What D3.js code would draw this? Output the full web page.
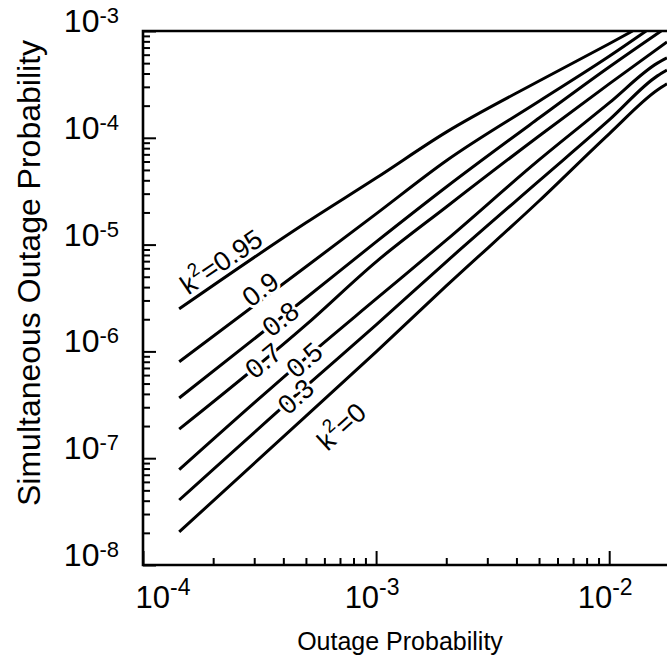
<!DOCTYPE html>
<html>
<head>
<meta charset="utf-8">
<script src="https://cdn.jsdelivr.net/npm/d3@7"></script>
<style>
  body { margin: 0; background: #fff; }
  svg { display: block; font-family: 'Liberation Sans', Arial, Helvetica, sans-serif; }
</style>
</head>
<body>
<svg id="chart" width="667" height="666"></svg>
<script>
// values: [outage probability, simultaneous outage probability]
const curve095 = [[1.43e-4, 2.5e-6], [5e-4, 1.6e-5], [1e-3, 4.2e-5], [2e-3, 1.13e-4], [5e-3, 3.4e-4], [1e-2, 7.6e-4], [1.26e-2, 1e-3]];
const curve09 = [[1.43e-4, 8.0e-7], [5e-4, 6.2e-6], [1e-3, 1.94e-5], [2e-3, 6.1e-5], [5e-3, 2.2e-4], [1e-2, 5.8e-4], [1.44e-2, 1e-3]];
const curve08 = [[1.43e-4, 3.66e-7], [5e-4, 3.16e-6], [1e-3, 1.06e-5], [2e-3, 3.46e-5], [5e-3, 1.53e-4], [1e-2, 4.6e-4], [1.67e-2, 1e-3]];
const curve07 = [[1.43e-4, 1.87e-7], [5e-4, 1.77e-6], [1e-3, 6.9e-6], [2e-3, 2.25e-5], [5e-3, 1.04e-4], [1e-2, 3.2e-4], [1.77e-2, 7.9e-4]];
const curve05 = [[1.43e-4, 7.8e-8], [5e-4, 8.7e-7], [1e-3, 3.1e-6], [2e-3, 1.1e-5], [5e-3, 6.2e-5], [1e-2, 2.12e-4], [1.61e-2, 5.0e-4], [1.77e-2, 5.6e-4]];
const curve03 = [[1.43e-4, 4.06e-8], [5e-4, 4.7e-7], [1e-3, 1.77e-6], [2e-3, 6.9e-6], [5e-3, 3.95e-5], [1e-2, 1.47e-4], [1.61e-2, 3.8e-4], [1.77e-2, 4.3e-4]];
const curve0 = [[1.43e-4, 2.04e-8], [5e-4, 2.48e-7], [1e-3, 9.9e-7], [2e-3, 4.1e-6], [5e-3, 2.56e-5], [1e-2, 1.09e-4], [1.61e-2, 2.8e-4], [1.77e-2, 3.2e-4]];

const curves = [curve095, curve09, curve08, curve07, curve05, curve03, curve0];
const kSquared = ['0.95', '0.9', '0.8', '0.7', '0.5', '0.3', '0'];
// outage probability where each curve label sits
const labelAt = [2.36e-4, 3.37e-4, 3.87e-4, 3.27e-4, 4.9e-4, 4.5e-4, 5.75e-4];
const xTickLabels = ['-4', '-3', '-2'];
const yTickLabels = ['-8', '-7', '-6', '-5', '-4', '-3'];

const svg = d3.select('#chart');
const x = d3.scaleLog().domain([1e-4, 1.77e-2]).range([143, 667]);
const y = d3.scaleLog().domain([1e-8, 1e-3]).range([565, 31]);

const isMajor = (v) => Math.abs(Math.log10(v) - Math.round(Math.log10(v))) < 1e-6;

// ticks (pointing inward)
function ticks(axis, scale, size, vals, transform) {
  svg.append('g')
    .attr('transform', transform)
    .call(axis(scale).tickValues(vals).tickSize(size).tickFormat(''))
    .call((g) => g.select('.domain').remove())
    .selectAll('line')
    .attr('stroke', '#000')
    .attr('stroke-width', 2);
}
const xt = x.ticks();
const yt = y.ticks();
ticks(d3.axisTop, x, 7, xt.filter((v) => !isMajor(v)), 'translate(0,565)');
ticks(d3.axisTop, x, 14, xt.filter(isMajor), 'translate(0,565)');
ticks(d3.axisRight, y, 7, yt.filter((v) => !isMajor(v)), 'translate(143,0)');
ticks(d3.axisRight, y, 13, yt.filter(isMajor), 'translate(143,0)');

// frame
const frame = svg.append('g').attr('stroke', '#000').attr('stroke-width', 2.6).attr('fill', 'none');
frame.append('path').attr('d', `M${x(1.77e-2)},${y(1e-3)}H${x(1e-4)}V${y(1e-8)}H${x(1.77e-2)}`);

// tick labels
const xMajors = xt.filter(isMajor);
svg.append('g')
  .selectAll('text')
  .data(xMajors)
  .join('text')
  .attr('x', (d, i) => (i === 0 ? x(d) + 20 : x(d) - 4))
  .attr('y', 608)
  .attr('text-anchor', 'middle')
  .attr('font-size', 31)
  .each(function (d, i) {
    const t = d3.select(this);
    t.append('tspan').text('10');
    t.append('tspan').attr('dy', -13).attr('font-size', 23).text(xTickLabels[i]);
  });

const yMajors = yt.filter(isMajor);
svg.append('g')
  .selectAll('text')
  .data(yMajors)
  .join('text')
  .attr('x', 119)
  .attr('y', (d) => y(d) + 1)
  .attr('text-anchor', 'end')
  .attr('font-size', 32)
  .each(function (d, i) {
    const t = d3.select(this);
    t.append('tspan').text('10');
    t.append('tspan').attr('dy', -9).attr('font-size', 22).text(yTickLabels[i]);
  });

// axis titles
svg.append('text')
  .attr('x', 400)
  .attr('y', 650)
  .attr('text-anchor', 'middle')
  .attr('font-size', 25)
  .text('Outage Probability');

svg.append('text')
  .attr('transform', 'translate(40,273) rotate(-90)')
  .attr('text-anchor', 'middle')
  .attr('font-size', 32)
  .text('Simultaneous Outage Probability');

// curves, clipped to the plot box
svg.append('clipPath')
  .attr('id', 'plot-clip')
  .append('rect')
  .attr('x', x(1e-4))
  .attr('y', y(1e-3))
  .attr('width', x(1.77e-2) - x(1e-4))
  .attr('height', y(1e-8) - y(1e-3));

const line = d3.line()
  .x((d) => x(d[0]))
  .y((d) => y(d[1]))
  .curve(d3.curveMonotoneX);

svg.append('g')
  .attr('clip-path', 'url(#plot-clip)')
  .selectAll('path')
  .data(curves)
  .join('path')
  .attr('d', line)
  .attr('fill', 'none')
  .attr('stroke', '#000')
  .attr('stroke-width', 3)
  .attr('stroke-linejoin', 'round');

// value on a curve at outage probability v (log-log interpolation)
function yAt(c, v) {
  const lx = Math.log10(v);
  for (let i = 1; i < c.length; i++) {
    const a = Math.log10(c[i - 1][0]);
    const b = Math.log10(c[i][0]);
    if (lx <= b || i === c.length - 1) {
      const t = (lx - a) / (b - a);
      return Math.pow(10, Math.log10(c[i - 1][1]) + t * (Math.log10(c[i][1]) - Math.log10(c[i - 1][1])));
    }
  }
}

// curve labels
const labels = svg.append('g').attr('font-size', 27);
curves.forEach((c, i) => {
  const v = labelAt[i];
  const px = x(v);
  const py = y(yAt(c, v));
  const ang = Math.atan2(y(yAt(c, v * 1.2)) - y(yAt(c, v / 1.2)), x(v * 1.2) - x(v / 1.2)) * 180 / Math.PI;
  const named = i === 0 || i === curves.length - 1;
  const dy = i === 0 ? -6 : i === curves.length - 1 ? 41 : i === 1 ? 0 : 10;
  const t = labels.append('text')
    .attr('transform', `translate(${px},${py}) rotate(${ang})`)
    .attr('y', dy)
    .attr('text-anchor', 'middle')
    .attr('stroke', '#fff')
    .attr('stroke-width', 6)
    .attr('paint-order', 'stroke')
    .attr('fill', '#000');
  if (named) {
    t.append('tspan').text('k');
    t.append('tspan').attr('dy', -12).attr('font-size', 19).text('2');
    t.append('tspan').attr('dy', 12).text('=' + kSquared[i]);
  } else {
    t.text(kSquared[i]);
  }
});
</script>
</body>
</html>
